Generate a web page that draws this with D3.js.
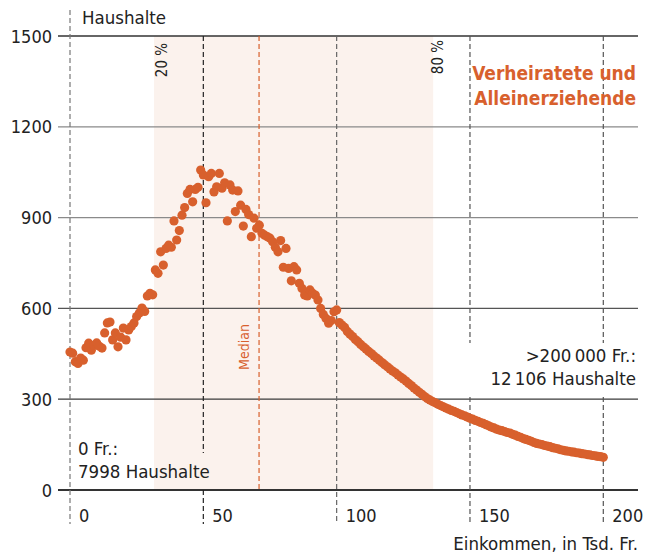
<!DOCTYPE html>
<html>
<head>
<meta charset="utf-8">
<script src="https://cdn.jsdelivr.net/npm/d3@7"></script>
<style>
  body { margin: 0; background: #fff; }
  svg text { font-family: "DejaVu Sans Condensed", "Liberation Sans Narrow", sans-serif; fill: #222; }
</style>
</head>
<body>
<svg class="Chart"></svg>
<script>
/* Haushalte je 1000-Fr.-Einkommensklasse, 0 bis 200 Tsd. Fr. */
const households = [
  456, 452, 424, 418, 436, 429, 470, 485, 462, 478,
  486, 475, 469, 519, 552, 555, 496, 519, 473, 505,
  535, 496, 529, 540, 552, 573, 585, 601, 590, 641,
  650, 645, 727, 716, 787, 743, 798, 809, 802, 889,
  826, 857, 908, 933, 980, 993, 952, 993, 1000, 1057,
  1041, 949, 1035, 1046, 985, 1002, 1046, 997, 1015, 889,
  1008, 991, 920, 988, 941, 872, 927, 910, 837, 898,
  865, 875, 848, 842, 837, 832, 820, 802, 787, 824,
  736, 798, 732, 691, 738, 727, 683, 666, 644, 641,
  661, 650, 644, 628, 600, 580, 567, 551, 560, 589,
  595, 553, 545, 537, 524, 515, 507, 497, 490, 481,
  473, 466, 458, 451, 443, 436, 429, 421, 414, 407,
  400, 393, 387, 380, 373, 367, 360, 352, 345, 337,
  330, 323, 316, 309, 302, 297, 292, 288, 283, 279,
  275, 271, 267, 263, 260, 256, 252, 248, 245, 241,
  237, 234, 230, 227, 223, 220, 216, 212, 208, 205,
  201, 198, 196, 193, 190, 188, 184, 181, 177, 174,
  170, 167, 164, 161, 157, 154, 152, 150, 147, 145,
  143, 140, 138, 136, 133, 131, 129, 128, 126, 125,
  123, 122, 120, 119, 117, 116, 114, 113, 111, 110,
  108
];
const yTicks = [0, 300, 600, 900, 1200, 1500];
const xTicks = [0, 50, 100, 150, 200];
const quintileBand = [31.5, 136.2];   // 20 % bis 80 %
const median = 70.9;
const title = ["Verheiratete und", "Alleinerziehende"];
const leftNote = ["0 Fr.:", "7998 Haushalte"];
const rightNote = [">200\u2009000 Fr.:", "12\u2009106 Haushalte"];

const width = 655, height = 556;
const orange = "#d8602d";

const svg = d3.select('.Chart')
  .attr('width', width)
  .attr('height', height);

const x = d3.scaleLinear().domain([0, 200]).range([70, 603.3]);
const y = d3.scaleLinear().domain([0, 1500]).range([490, 36]);

/* 20-80 % band */
svg.append('rect')
  .attr('x', x(quintileBand[0]))
  .attr('y', y(1500))
  .attr('width', x(quintileBand[1]) - x(quintileBand[0]))
  .attr('height', y(0) - y(1500))
  .attr('fill', '#fbf2ed');

/* horizontal grid */
const gridColor = { 0: '#333', 300: '#3a3a3a', 600: '#555', 900: '#8a8a8a', 1200: '#8a8a8a', 1500: '#333' };
svg.append('g')
  .selectAll('line')
  .data(yTicks)
  .enter().append('line')
  .attr('x1', 58)
  .attr('x2', 638)
  .attr('y1', d => y(d))
  .attr('y2', d => y(d))
  .attr('stroke', d => gridColor[d])
  .attr('stroke-width', d => d === 0 ? 2.2 : 1.3);

/* vertical dashed lines, with gaps behind the notes */
const vSegments = [
  { v: 0, y1: 10, y2: 524, c: '#777' },
  { v: 50, y1: y(1500), y2: 453, c: '#222' },
  { v: 50, y1: y(0), y2: 524, c: '#222' },
  { v: 100, y1: y(1500), y2: 524, c: '#666' },
  { v: 150, y1: y(1500), y2: 343, c: '#555' },
  { v: 150, y1: 397, y2: 524, c: '#555' },
  { v: 200, y1: y(1500), y2: 343, c: '#555' },
  { v: 200, y1: 397, y2: 524, c: '#555' }
];
svg.append('g')
  .selectAll('line')
  .data(vSegments)
  .enter().append('line')
  .attr('x1', d => x(d.v))
  .attr('x2', d => x(d.v))
  .attr('y1', d => d.y1)
  .attr('y2', d => d.y2)
  .attr('stroke', d => d.c)
  .attr('stroke-width', 1.2)
  .attr('stroke-dasharray', '5,3');

/* median */
svg.append('line')
  .attr('x1', x(median)).attr('x2', x(median))
  .attr('y1', y(1500)).attr('y2', y(0))
  .attr('stroke', orange)
  .attr('stroke-width', 1.2)
  .attr('stroke-dasharray', '5,3');

svg.append('text')
  .attr('transform', `translate(${x(median) - 10},347) rotate(-90)`)
  .attr('text-anchor', 'middle')
  .style('font-size', '14px')
  .style('fill', orange)
  .text('Median');

svg.append('text')
  .attr('transform', `translate(${x(quintileBand[0]) + 13},60) rotate(-90)`)
  .attr('text-anchor', 'middle')
  .style('font-size', '15px')
  .text('20 %');

svg.append('text')
  .attr('transform', `translate(${x(quintileBand[1]) + 10},57) rotate(-90)`)
  .attr('text-anchor', 'middle')
  .style('font-size', '15px')
  .text('80 %');

/* axes labels */
svg.append('g')
  .selectAll('text')
  .data(yTicks)
  .enter().append('text')
  .attr('x', 52)
  .attr('y', d => y(d) + 6.5)
  .attr('text-anchor', 'end')
  .style('font-size', '18px')
  .text(d => d);

svg.append('g')
  .selectAll('text')
  .data(xTicks)
  .enter().append('text')
  .attr('x', d => x(d) + 9)
  .attr('y', 522)
  .style('font-size', '18px')
  .text(d => d);

svg.append('text')
  .attr('x', 82).attr('y', 24)
  .style('font-size', '18.5px')
  .text('Haushalte');

svg.append('text')
  .attr('x', 638).attr('y', 550)
  .attr('text-anchor', 'end')
  .style('font-size', '18.5px')
  .text('Einkommen, in Tsd. Fr.');

/* notes */
svg.append('g')
  .selectAll('text')
  .data(leftNote)
  .enter().append('text')
  .attr('x', 78)
  .attr('y', (d, i) => 455 + i * 23)
  .style('font-size', '18.5px')
  .text(d => d);

svg.append('g')
  .selectAll('text')
  .data(rightNote)
  .enter().append('text')
  .attr('x', 636)
  .attr('y', (d, i) => 362 + i * 23)
  .attr('text-anchor', 'end')
  .style('font-size', '18.5px')
  .text(d => d);

svg.append('g')
  .selectAll('text')
  .data(title)
  .enter().append('text')
  .attr('x', 636)
  .attr('y', (d, i) => 80 + i * 25)
  .attr('text-anchor', 'end')
  .style('font-size', '19px')
  .style('font-weight', 'bold')
  .style('fill', orange)
  .text(d => d);

/* dots */
svg.append('g')
  .selectAll('circle')
  .data(households)
  .enter().append('circle')
  .attr('cx', (d, i) => x(i))
  .attr('cy', d => y(d))
  .attr('r', 4.6)
  .attr('fill', orange);
</script>
</body>
</html>
